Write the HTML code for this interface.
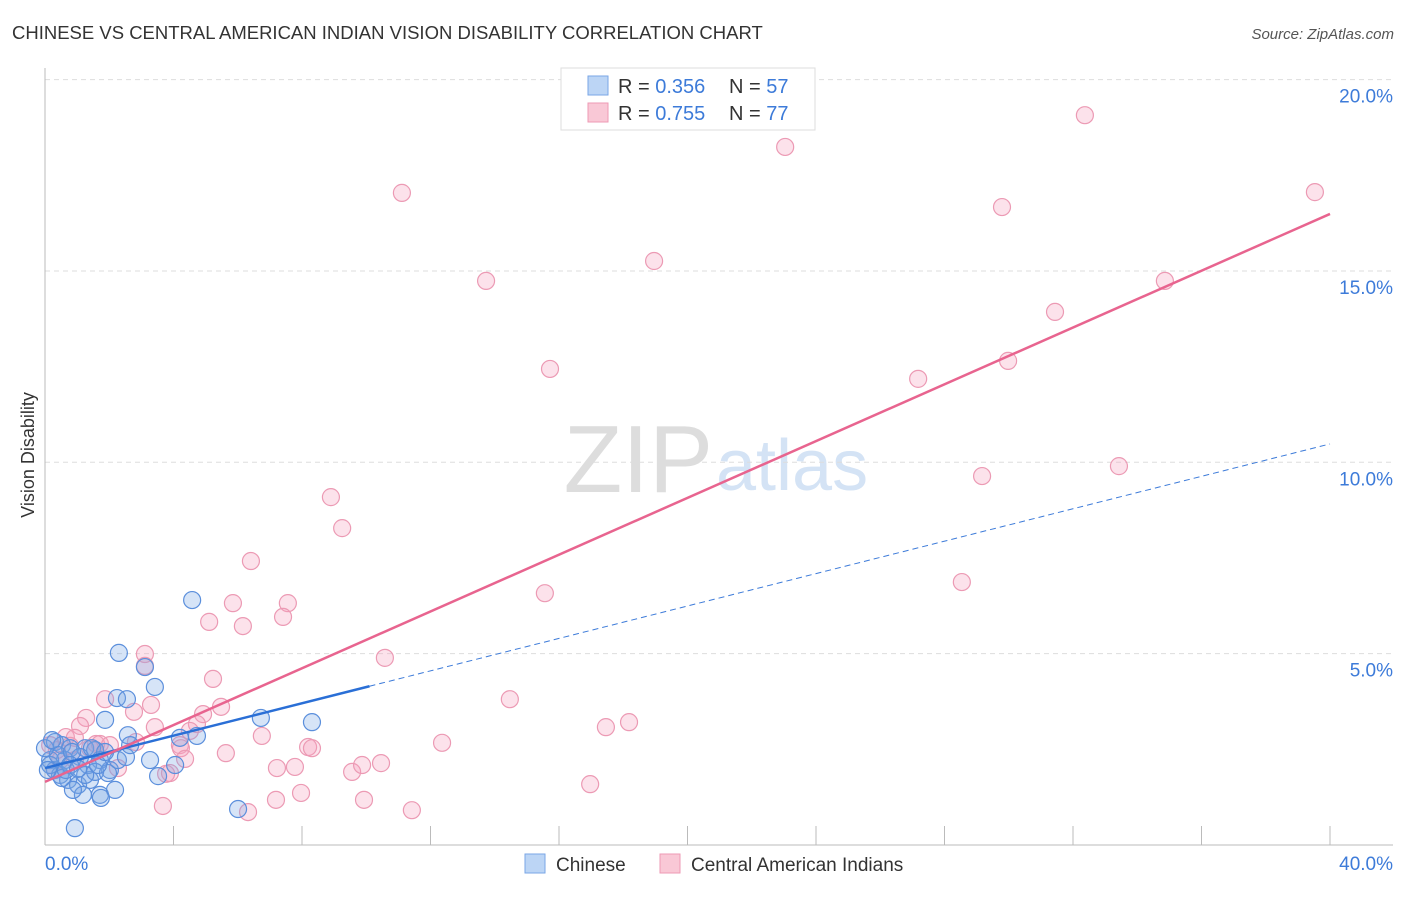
<!DOCTYPE html>
<html><head><meta charset="utf-8"><style>
body{margin:0;background:#fff;font-family:"Liberation Sans",sans-serif;}
svg text{font-family:"Liberation Sans",sans-serif;}
</style></head><body>
<svg id="chart" width="1406" height="892">
<text x="12" y="39" font-size="18.5" fill="#333">CHINESE VS CENTRAL AMERICAN INDIAN VISION DISABILITY CORRELATION CHART</text>
<text x="1394" y="39" font-size="15" fill="#555" font-style="italic" text-anchor="end">Source: ZipAtlas.com</text>
<text x="713" y="492" font-size="96" fill="#ddd" text-anchor="end" font-family="Liberation Serif">ZIP</text>
<text x="716" y="490" font-size="72" fill="#d4e3f5">atlas</text>
<g id="grid"></g>
<g id="axes"></g>
<g id="pts"></g>
<g id="lines"></g>
<text transform="translate(34,455) rotate(-90)" font-size="18" fill="#333" text-anchor="middle">Vision Disability</text>
<g>
<rect x="561" y="68" width="254" height="62" fill="#fff" stroke="#ddd"/>
<rect x="588" y="76" width="20" height="19" fill="#bcd5f5" stroke="#7aa6e6"/>
<rect x="588" y="103" width="20" height="19" fill="#f9c8d6" stroke="#ee9ab4"/>
<text x="618" y="93" font-size="20" fill="#333">R = <tspan fill="#3d7bd9">0.356</tspan></text>
<text x="729" y="93" font-size="20" fill="#333">N = <tspan fill="#3d7bd9">57</tspan></text>
<text x="618" y="120" font-size="20" fill="#333">R = <tspan fill="#3d7bd9">0.755</tspan></text>
<text x="729" y="120" font-size="20" fill="#333">N = <tspan fill="#3d7bd9">77</tspan></text>
</g>
<g>
<rect x="525" y="854" width="20" height="19" fill="#bcd5f5" stroke="#7aa6e6"/>
<text x="556" y="871" font-size="19" fill="#333">Chinese</text>
<rect x="660" y="854" width="20" height="19" fill="#f9c8d6" stroke="#ee9ab4"/>
<text x="691" y="871" font-size="19" fill="#333">Central American Indians</text>
</g>
</svg>
<script>
const yTicks=[5,10,15,20];
const yTickLabels=["5.0%","10.0%","15.0%","20.0%"];
const xTicks=[0,4,8,12,16,20,24,28,32,36,40];
const chineseX=[4.58,2.30,3.11,3.42,2.24,2.55,1.87,6.72,8.31,4.73,4.20,2.58,0.31,0.53,0.78,1.25,1.56,3.27,4.05,3.52,2.02,1.71,1.09,0.62,0.16,0.31,0.47,0.72,1.03,1.40,1.71,2.18,1.18,1.74,0.87,0.16,0.40,0.84,1.34,1.56,1.96,2.27,2.52,2.65,0.00,0.09,0.22,0.53,0.78,1.25,6.01,0.93,1.46,1.65,1.87,0.65,1.03];
const chineseY=[6.40,5.02,4.65,4.13,3.84,3.81,3.27,3.32,3.21,2.85,2.80,2.87,2.69,2.61,2.53,2.53,2.48,2.22,2.09,1.80,1.96,2.22,2.30,2.22,2.22,1.96,1.83,1.70,1.57,1.70,1.31,1.44,1.31,1.23,1.44,2.09,2.35,2.43,2.09,1.91,1.88,2.22,2.30,2.61,2.53,1.96,2.74,1.75,2.09,1.83,0.94,0.44,2.53,2.09,2.43,1.96,1.99];
const camX=[32.37,23.04,11.11,39.53,29.79,18.96,13.73,34.86,31.44,29.98,15.72,27.18,33.43,29.17,8.90,9.25,6.41,28.54,15.56,5.85,7.56,5.11,7.41,6.16,3.11,10.58,3.11,5.23,1.87,14.47,3.30,2.77,5.48,4.92,1.28,1.09,18.18,17.46,3.42,4.73,4.51,6.75,12.36,0.65,0.93,1.59,4.20,2.83,1.71,8.19,8.31,4.23,5.63,4.36,7.22,7.78,9.56,9.87,10.46,2.27,3.77,3.89,16.97,7.19,7.97,9.93,3.67,11.42,6.32,0.37,0.16,0.47,0.78,1.40,2.02,0.31,0.93];
const camY=[19.07,18.24,17.04,17.06,16.67,15.26,14.74,14.74,13.93,12.65,12.44,12.18,9.90,9.64,9.09,8.28,7.42,6.87,6.58,6.32,6.32,5.83,5.96,5.72,4.99,4.89,4.68,4.34,3.81,3.81,3.66,3.48,3.61,3.42,3.32,3.11,3.21,3.08,3.08,3.16,2.98,2.85,2.67,2.82,2.80,2.64,2.61,2.69,2.64,2.56,2.53,2.53,2.40,2.25,2.01,2.04,1.91,2.09,2.14,2.01,1.86,1.88,1.59,1.18,1.36,1.18,1.02,0.91,0.86,2.48,2.61,2.22,2.59,2.53,2.61,1.96,2.22];
const chineseTrend=[2.01,10.48];
const chineseSolidEnd=10.1;
const camTrend=[1.65,16.49];
const NS="http://www.w3.org/2000/svg";
const X=v=>45+v*32.125, Y=v=>845-v*38.27;
function mk(t,a,p){const e=document.createElementNS(NS,t);for(const k in a)e.setAttribute(k,a[k]);p.appendChild(e);return e;}
const grid=document.getElementById('grid'),axes=document.getElementById('axes'),pts=document.getElementById('pts'),lines=document.getElementById('lines');
yTicks.forEach((v,i)=>{
 const l=mk('line',{x1:45,x2:1393,y1:Y(v),y2:Y(v),stroke:'#ddd','stroke-dasharray':'5,4'},grid);
 
 
 const t=mk('text',{x:1393,y:Y(v)+23,'font-size':19,fill:'#3d7bd9','text-anchor':'end'},grid);
 t.textContent=yTickLabels[i];
 
 
});
const la=mk('line',{x1:45,x2:45,y1:68,y2:845,stroke:'#bbb'},axes);


const lb=mk('line',{x1:45,x2:1393,y1:845,y2:845,stroke:'#bbb'},axes);


xTicks.forEach(v=>{
 const tk=mk('line',{x1:X(v),x2:X(v),y1:826,y2:845,stroke:'#bbb'},axes);
 
 
});
const x0=mk('text',{x:45,y:870,'font-size':19,fill:'#3d7bd9'},axes);x0.textContent='0.0%';


const x1=mk('text',{x:1393,y:870,'font-size':19,fill:'#3d7bd9','text-anchor':'end'},axes);x1.textContent='40.0%';


camX.forEach((v,i)=>{
 const c=mk('circle',{cx:X(v),cy:Y(camY[i]),r:8.5,fill:'rgba(244,160,188,0.3)',stroke:'#ec9ab4','stroke-width':1.2},pts);
 
 
});
chineseX.forEach((v,i)=>{
 const c=mk('circle',{cx:X(v),cy:Y(chineseY[i]),r:8.5,fill:'rgba(120,165,230,0.3)',stroke:'#5b8fdc','stroke-width':1.2},pts);
 
 
});
const cy=x=>chineseTrend[0]+(chineseTrend[1]-chineseTrend[0])*x/40;
const bd=mk('line',{x1:X(chineseSolidEnd),y1:Y(cy(chineseSolidEnd)),x2:X(40),y2:Y(chineseTrend[1]),stroke:'#3d7bd9','stroke-width':1,'stroke-dasharray':'6,4'},lines);


const bs=mk('line',{x1:X(0),y1:Y(chineseTrend[0]),x2:X(chineseSolidEnd),y2:Y(cy(chineseSolidEnd)),stroke:'#2a6fd6','stroke-width':2.5},lines);


const pl=mk('line',{x1:X(0),y1:Y(camTrend[0]),x2:X(40),y2:Y(camTrend[1]),stroke:'#e8648f','stroke-width':2.5},lines);


</script>
</body></html>
